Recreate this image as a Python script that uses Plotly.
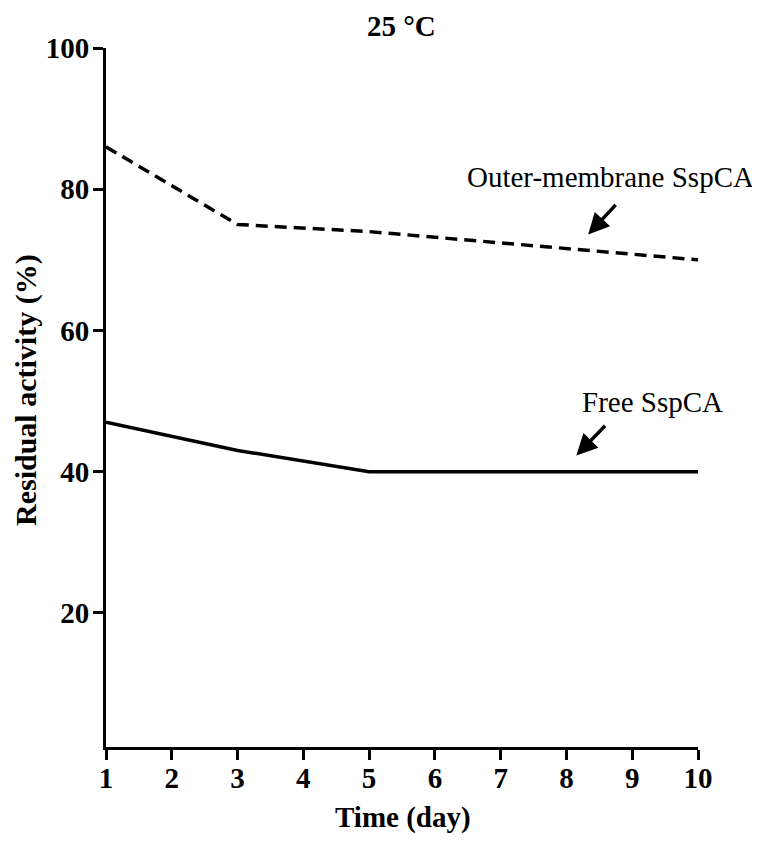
import plotly.graph_objects as go

days_outer = [1, 3, 5, 10]
outer_membrane = [86, 75, 74, 70]
days_free = [1, 3, 5, 10]
free_sspca = [47, 43, 40, 40]
x_ticks = [1, 2, 3, 4, 5, 6, 7, 8, 9, 10]
y_ticks = [20, 40, 60, 80, 100]

FONT = "Liberation Serif"
OFF = 8  # page body margin offset
W, H = 760, 841
# target screen positions of the plot area
SL, ST, SR, SB = 106, 48, 698, 747
L, T = SL - OFF, ST - OFF
PW, PH = SR - SL, SB - ST
R = W - L - PW
B = H - T - PH


def px(sx):
    return (sx - SL) / PW


def py(sy):
    return (SB - sy) / PH


fig = go.Figure()
fig.add_trace(go.Scatter(x=days_outer, y=outer_membrane, mode="lines",
                         line=dict(color="black", width=3.5, dash="12px,7px"),
                         name="Outer-membrane SspCA"))
fig.add_trace(go.Scatter(x=days_free, y=free_sspca, mode="lines",
                         line=dict(color="black", width=3.5),
                         name="Free SspCA"))

# labels
fig.add_annotation(x=px(610), y=py(177), xref="paper", yref="paper",
                   xanchor="center", yanchor="middle",
                   text="Outer-membrane SspCA", showarrow=False,
                   font=dict(family=FONT, size=29, color="black"))
fig.add_annotation(x=px(652), y=py(402), xref="paper", yref="paper",
                   xanchor="center", yanchor="middle",
                   text="Free SspCA", showarrow=False,
                   font=dict(family=FONT, size=29, color="black"))
# arrows
fig.add_annotation(x=8.33, y=73.6, ax=8.77, ay=78.0, axref="x", ayref="y",
                   xref="x", yref="y", text="", showarrow=True,
                   arrowhead=2, arrowsize=1.2, arrowwidth=3.5, arrowcolor="black")
fig.add_annotation(x=8.15, y=42.3, ax=8.61, ay=46.7, axref="x", ayref="y",
                   xref="x", yref="y", text="", showarrow=True,
                   arrowhead=2, arrowsize=1.2, arrowwidth=3.5, arrowcolor="black")

# title and axis titles
fig.add_annotation(x=px(401), y=py(26), xref="paper", yref="paper",
                   text="25 °C", showarrow=False, xanchor="center", yanchor="middle",
                   font=dict(family=FONT, size=29, color="black", weight="bold"))
fig.add_annotation(x=px(403), y=py(818), xref="paper", yref="paper",
                   text="Time (day)", showarrow=False, xanchor="center", yanchor="middle",
                   font=dict(family=FONT, size=29, color="black", weight="bold"))
fig.add_annotation(x=px(26), y=py(390), xref="paper", yref="paper",
                   text="Residual activity (%)", showarrow=False, textangle=-90,
                   xanchor="center", yanchor="middle",
                   font=dict(family=FONT, size=30, color="black", weight="bold"))

fig.update_layout(
    width=W, height=H,
    margin=dict(l=L, r=R, t=T, b=B),
    paper_bgcolor="white", plot_bgcolor="white",
    showlegend=False,
)
fig.update_xaxes(range=[1, 10], tickvals=x_ticks, ticks="outside", ticklen=10,
                 tickwidth=3, tickcolor="black", showline=True, linewidth=3,
                 linecolor="black", showgrid=False, zeroline=False, automargin=False,
                 ticklabelstandoff=-7,
                 tickfont=dict(family=FONT, size=29, color="black", weight="bold"))
fig.update_yaxes(range=[1, 100], tickvals=y_ticks, ticks="outside", ticklen=10,
                 tickwidth=3, tickcolor="black", showline=True, linewidth=3,
                 linecolor="black", showgrid=False, zeroline=False, automargin=False,
                 ticklabelstandoff=-2,
                 tickfont=dict(family=FONT, size=29, color="black", weight="bold"))

fig.write_html("out.html")
